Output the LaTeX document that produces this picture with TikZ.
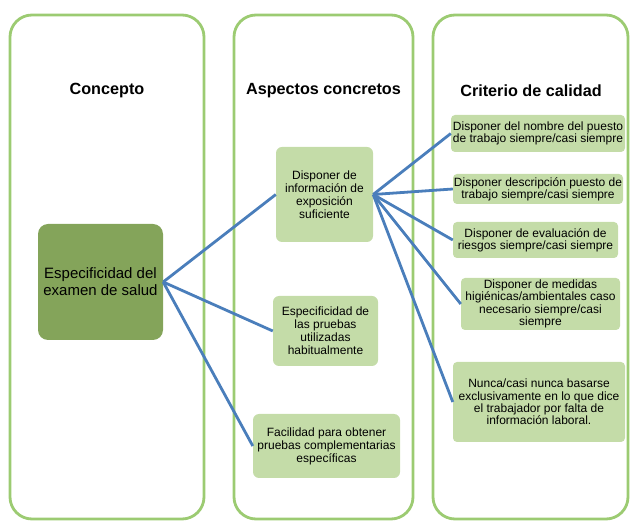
\documentclass[tikz,border=0pt]{standalone}
\usepackage{fontspec}
\setmainfont{Liberation Sans}
\definecolor{frameg}{HTML}{9CCB72}
\definecolor{darkg}{HTML}{84A45A}
\definecolor{lightg}{HTML}{C4DCA8}
\definecolor{connb}{HTML}{4A7EBB}
\begin{document}
\begin{tikzpicture}[x=1pt,y=-1pt,
  frame/.style={draw=frameg, line width=2.8pt, rounded corners=22pt, inner sep=0pt},
  title/.style={font=\bfseries\fontsize{16.2}{19}\selectfont, inner sep=0pt},
  mainbox/.style={fill=darkg, rounded corners=10pt, align=center, inner sep=0pt,
    font=\fontsize{15}{17}\selectfont},
  midbox/.style={fill=lightg, rounded corners=6pt, align=center, inner sep=0pt,
    font=\fontsize{12}{13}\selectfont},
  critbox/.style={fill=lightg, rounded corners=4pt, align=center, inner sep=0pt,
    font=\fontsize{12}{12.3}\selectfont},
  conn/.style={draw=connb, line width=2.8pt}
]
\useasboundingbox (0,0) rectangle (630,521);
% column frames
\node[frame, minimum width=194pt, minimum height=504pt] (f1) at (107,267) {};
\node[frame, minimum width=179pt, minimum height=504pt] (f2) at (323.5,267) {};
\node[frame, minimum width=195pt, minimum height=504pt] (f3) at (530.5,267) {};
% titles
\node[title] (t1) at (107,91) {Concepto};
\node[title] (t2) at (323.5,91) {Aspectos concretos};
\node[title] (t3) at (531,91) {Criterio de calidad};
% boxes
\node[mainbox, minimum width=125pt, minimum height=116pt] (main) at (100.5,282)
  {Especificidad del\\examen de salud};
\node[midbox, minimum width=97pt, minimum height=95pt] (a) at (324.5,194.5)
  {Disponer de\\información de\\exposición\\suficiente};
\node[midbox, minimum width=105pt, minimum height=70pt] (b) at (325.5,331)
  {Especificidad de\\las pruebas\\utilizadas\\habitualmente};
\node[midbox, minimum width=147pt, minimum height=64pt] (c) at (326.5,446)
  {Facilidad para obtener\\pruebas complementarias\\específicas};
\node[critbox, minimum width=174pt, minimum height=37pt] (r1) at (538,133.5)
  {Disponer del nombre del puesto\\de trabajo siempre/casi siempre};
\node[critbox, minimum width=170pt, minimum height=30pt] (r2) at (538,189)
  {Disponer descripción puesto de\\trabajo siempre/casi siempre};
\node[critbox, minimum width=165pt, minimum height=36pt] (r3) at (535.5,240)
  {Disponer de evaluación de\\riesgos siempre/casi siempre};
\node[critbox, minimum width=159pt, minimum height=52pt] (r4) at (540.5,304)
  {Disponer de medidas\\higiénicas/ambientales caso\\necesario siempre/casi\\siempre};
\node[critbox, minimum width=172pt, minimum height=80pt] (r5) at (539,402)
  {Nunca/casi nunca basarse\\exclusivamente en lo que dice\\el trabajador por falta de\\información laboral.};
% connectors
\draw[conn] (main.east) -- (a.west);
\draw[conn] (main.east) -- (b.west);
\draw[conn] (main.east) -- (c.west);
\draw[conn] (a.east) -- (r1.west);
\draw[conn] (a.east) -- (r2.west);
\draw[conn] (a.east) -- (r3.west);
\draw[conn] (a.east) -- (r4.west);
\draw[conn] (a.east) -- (r5.west);
\end{tikzpicture}
\end{document}
